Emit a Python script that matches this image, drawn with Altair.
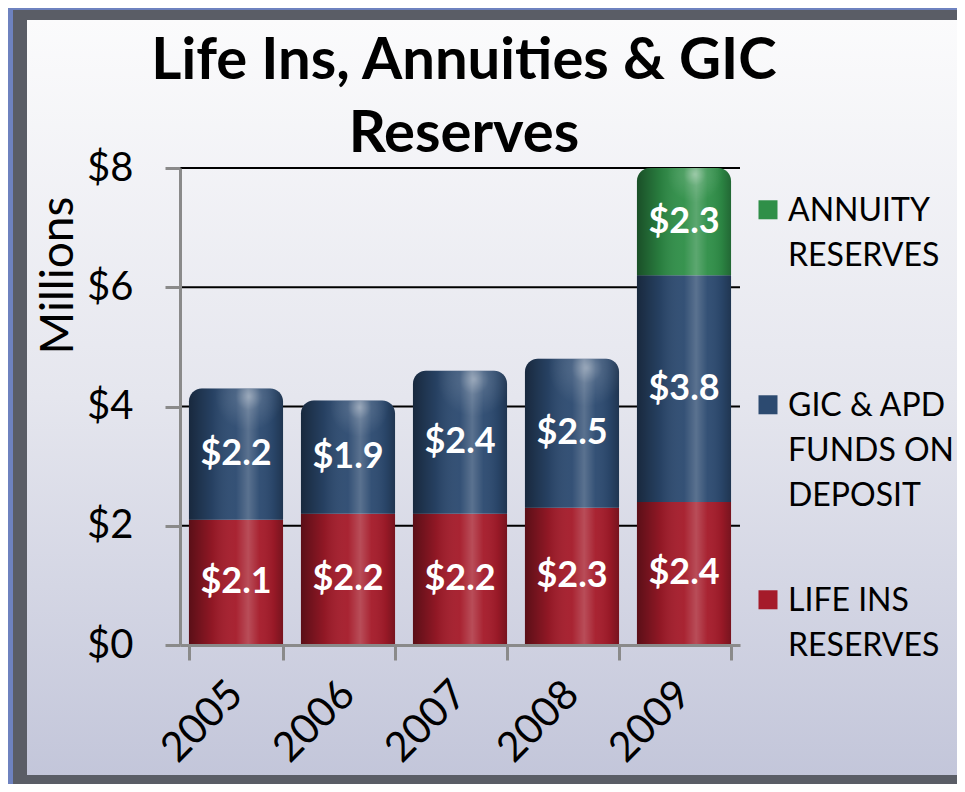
import altair as alt
import pandas as pd

# ---- data ----
years = ["2005", "2006", "2007", "2008", "2009"]
life_ins = [2.1, 2.2, 2.2, 2.3, 2.4]
gic_apd = [2.2, 1.9, 2.4, 2.5, 3.8]
annuity_years = ["2009"]
annuity = [2.3]
series_names = ["ANNUITY RESERVES", "GIC & APD FUNDS ON DEPOSIT", "LIFE INS RESERVES"]
series_colors = ["#2f8f48", "#2c4a70", "#a51b2a"]
y_ticks = [0, 2, 4, 6, 8]
grid_values = [2, 4, 6, 8]
title_lines = ["Life Ins, Annuities & GIC", "Reserves"]

rows = []
for yr, v in zip(years, life_ins):
    rows.append({"year": yr, "series": "LIFE INS RESERVES", "value": v, "order": 0})
for yr, v in zip(years, gic_apd):
    rows.append({"year": yr, "series": "GIC & APD FUNDS ON DEPOSIT", "value": v, "order": 1})
for yr, v in zip(annuity_years, annuity):
    rows.append({"year": yr, "series": "ANNUITY RESERVES", "value": v, "order": 2})
df = pd.DataFrame(rows)

Y_MAX = 8
FONT = "Lato"
AXIS_GRAY = "#8a8a8a"

y_scale = alt.Scale(domain=[0, Y_MAX], nice=False)
y_axis = alt.Axis(
    values=y_ticks, format="$.0f", title="Millions", grid=False, zindex=1,
    labelFont=FONT, labelFontSize=40, labelColor="black", labelPadding=32, labelOverlap=False,
    tickSize=15, tickWidth=3, tickColor=AXIS_GRAY, domainColor=AXIS_GRAY, domainWidth=3,
    titleFont=FONT, titleFontSize=46, titleFontWeight="normal", titleColor="black",
    titleAngle=-90, titleX=-108, titleY=107, titleAlign="center", titleBaseline="alphabetic",
)
x_axis = alt.Axis(
    title=None, labelAngle=-45, labelAlign="right", labelBaseline="middle",
    labelFont=FONT, labelFontSize=41, labelColor="black", labelPadding=28,
    labelOverlap=False, tickBand="extent", tickSize=15, tickWidth=3, tickColor=AXIS_GRAY,
    domainColor=AXIS_GRAY, domainWidth=3, zindex=1, grid=False,
)
x_enc = alt.X("year:N", sort=years, scale=alt.Scale(paddingInner=0.16, paddingOuter=0.08), axis=x_axis)
y_enc = alt.Y("v0:Q", scale=y_scale, axis=y_axis)

legend = alt.Legend(
    title=None, orient="none", legendX=572, legendY=12, padding=0, zindex=1,
    labelFont=FONT, labelFontSize=32, labelColor="black", labelBaseline="top", labelOffset=4,
    labelLimit=400,
    labelExpr=("datum.label == 'ANNUITY RESERVES' ? ['ANNUITY', 'RESERVES'] : "
               "datum.label == 'LIFE INS RESERVES' ? ['LIFE INS', 'RESERVES'] : "
               "['GIC & APD', 'FUNDS ON', 'DEPOSIT']"),
    symbolType="M-1,0.45L1,0.45L1,2.45L-1,2.45Z", symbolSize=361, symbolStrokeWidth=0,
    gridAlign="all", rowPadding=58,
)
color_enc = alt.Color("series:N", scale=alt.Scale(domain=series_names, range=series_colors), legend=legend)

base = alt.Chart(df).transform_stack(
    stack="value", as_=["v0", "v1"], groupby=["year"],
    sort=[alt.SortField("order", order="ascending")],
).transform_joinaggregate(
    top="max(v1)", groupby=["year"]
).transform_calculate(
    v1c=f"min(datum.v1, {Y_MAX})",
    mid=f"(datum.v0 + min(datum.v1, {Y_MAX})) / 2",
    label="'$' + format(datum.value, '.1f')",
)
lower = base.transform_filter("datum.v1 < datum.top")
upper = base.transform_filter("datum.v1 >= datum.top")

shade = alt.Gradient(
    gradient="linear", x1=0, x2=1, y1=0, y2=0,
    stops=[
        alt.GradientStop(offset=0.0, color="rgba(0,0,0,0.45)"),
        alt.GradientStop(offset=0.25, color="rgba(0,0,0,0.12)"),
        alt.GradientStop(offset=0.5, color="rgba(255,255,255,0.04)"),
        alt.GradientStop(offset=0.63, color="rgba(255,255,255,0.22)"),
        alt.GradientStop(offset=0.75, color="rgba(255,255,255,0.04)"),
        alt.GradientStop(offset=0.9, color="rgba(0,0,0,0.08)"),
        alt.GradientStop(offset=1.0, color="rgba(0,0,0,0.28)"),
    ],
)
glare = alt.Gradient(
    gradient="radial", x1=0.6, y1=0.06, r1=0, x2=0.6, y2=0.06, r2=0.26,
    stops=[
        alt.GradientStop(offset=0.0, color="rgba(255,255,255,0.4)"),
        alt.GradientStop(offset=0.4, color="rgba(255,255,255,0.12)"),
        alt.GradientStop(offset=1.0, color="rgba(255,255,255,0)"),
    ],
)
panel_fill = alt.Gradient(
    gradient="linear", x1=0, x2=0, y1=0, y2=1,
    stops=[
        alt.GradientStop(offset=0.0, color="#fbfbfc"),
        alt.GradientStop(offset=0.5, color="#e5e6ee"),
        alt.GradientStop(offset=1.0, color="#c3c6da"),
    ],
)

one = pd.DataFrame({"panel": [0]})
shadow_rect = alt.Chart(one).mark_rect(color="#5a5d66").encode(
    x=alt.value(-167), x2=alt.value(800), y=alt.value(-158), y2=alt.value(624))
panel_rect = alt.Chart(one).mark_rect(fill=panel_fill).encode(
    x=alt.value(-153), x2=alt.value(800), y=alt.value(-148), y2=alt.value(607))

grid = alt.Chart(pd.DataFrame({"tick": grid_values})).mark_rule(color="black", strokeWidth=2).encode(
    y=alt.Y("tick:Q", scale=y_scale, axis=y_axis))

bars_lower = lower.mark_bar().encode(x=x_enc, y=y_enc, y2="v1c:Q", color=color_enc)
bars_upper = upper.mark_bar(cornerRadiusTopLeft=13, cornerRadiusTopRight=13).encode(
    x=x_enc, y=y_enc, y2="v1c:Q", color=color_enc)
shade_lower = lower.mark_bar(fill=shade).encode(x=x_enc, y=y_enc, y2="v1c:Q")
shade_upper = upper.mark_bar(fill=shade, cornerRadiusTopLeft=13, cornerRadiusTopRight=13).encode(
    x=x_enc, y=y_enc, y2="v1c:Q")
glare_upper = upper.mark_bar(fill=glare, cornerRadiusTopLeft=13, cornerRadiusTopRight=13).encode(
    x=x_enc, y=y_enc, y2="v1c:Q")

labels = base.mark_text(color="white", font=FONT, fontSize=36, fontWeight="bold", baseline="middle").encode(
    x=x_enc, y=alt.Y("mid:Q", scale=y_scale, axis=y_axis), text="label:N")

chart = alt.layer(
    shadow_rect, panel_rect, grid, bars_lower, bars_upper, shade_lower, shade_upper, glare_upper, labels
).properties(
    width=560, height=477,
    padding={"left": 172, "top": 160, "right": 217, "bottom": 139},
    autosize=alt.AutoSizeParams(type="none"),
    background="#6e82bf",
    title=alt.TitleParams(
        text=title_lines, font=FONT, fontSize=58, fontWeight="bold", color="black",
        anchor="middle", frame="group", lineHeight=73, offset=0, dx=4, dy=154, zindex=1,
    ),
).configure_view(strokeWidth=0).configure(style={"guide-label": {"lineHeight": 45}})

chart.save("out.html", embed_options={"renderer": "svg", "actions": False})
